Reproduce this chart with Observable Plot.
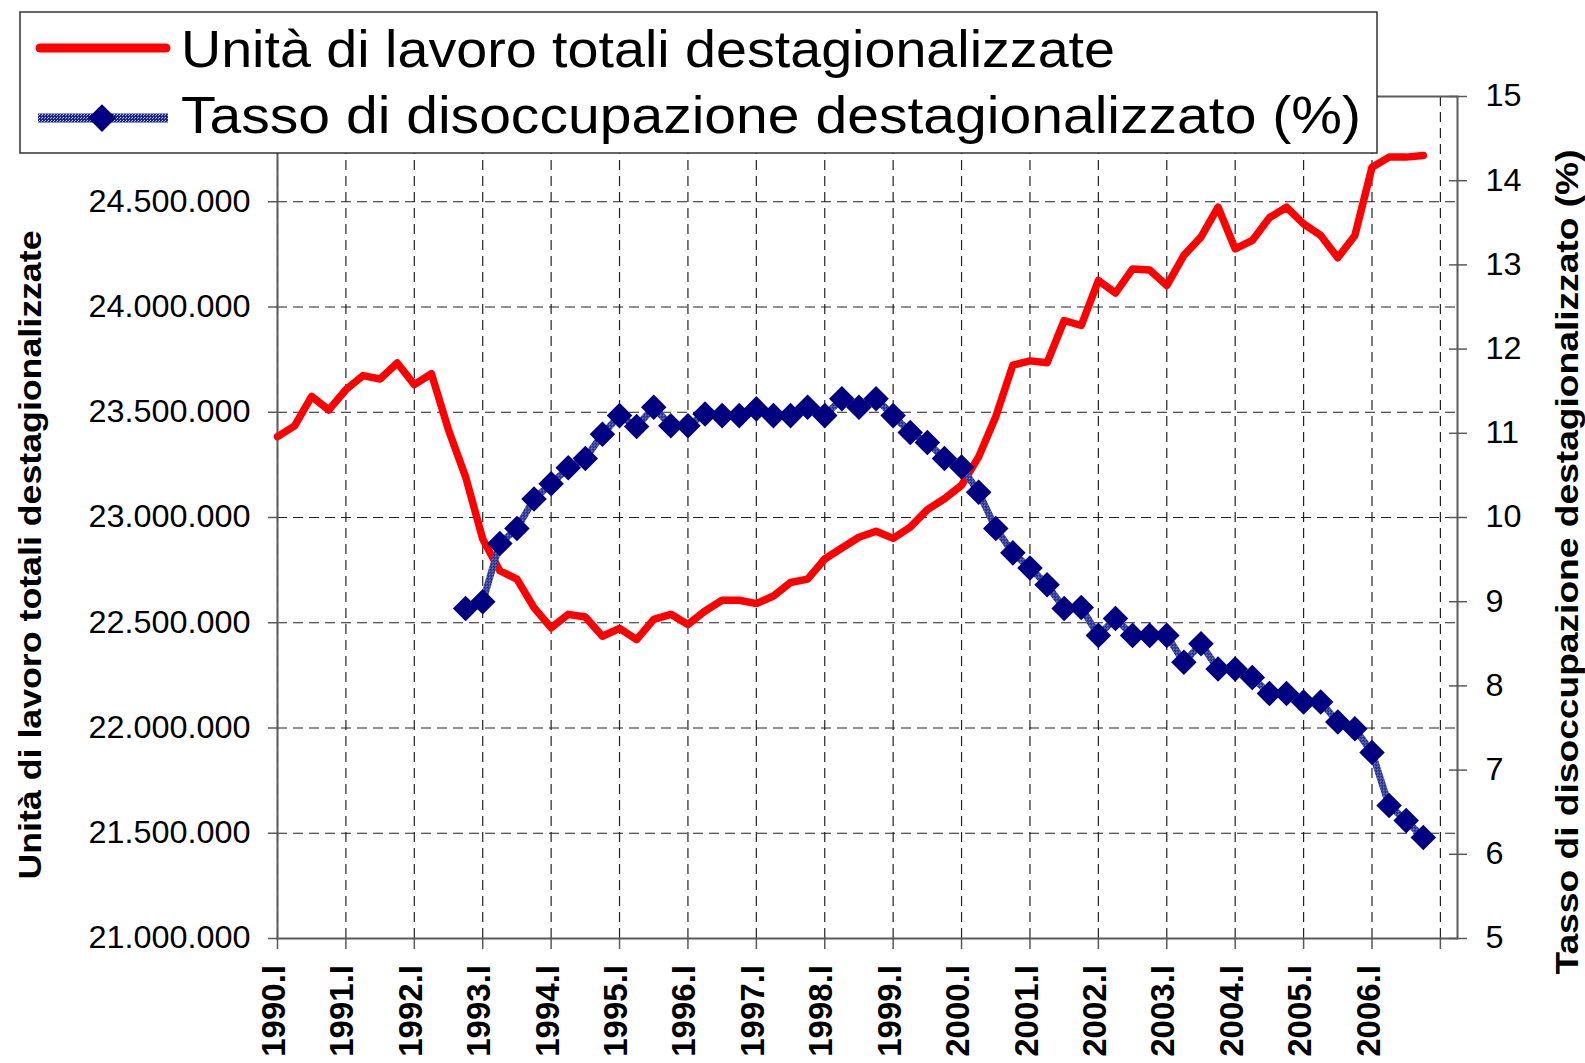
<!DOCTYPE html>
<html>
<head>
<meta charset="utf-8">
<script src="https://cdn.jsdelivr.net/npm/d3@7"></script>
<script src="https://cdn.jsdelivr.net/npm/@observablehq/plot@0.6"></script>
<style>
  html, body { margin: 0; padding: 0; background: #ffffff; }
  #wrap { position: relative; width: 1585px; height: 1063px; overflow: hidden; font-family: "Liberation Sans", Arial, sans-serif; }
  #legend { position: absolute; left: 0; top: 0; }
</style>
</head>
<body>
<div id="wrap">
  <div id="chart"></div>
  <svg id="legend" width="1400" height="170"></svg>
</div>
<script>
// ---------------- DATA ----------------
const years = [1990, 1991, 1992, 1993, 1994, 1995, 1996, 1997, 1998, 1999, 2000, 2001, 2002, 2003, 2004, 2005, 2006];
const quarterNames = ["I", "II", "III", "IV"];
const seriesNames = [
  "Unità di lavoro totali destagionalizzate",
  "Tasso di disoccupazione destagionalizzato (%)"
];
const leftTitle = "Unità di lavoro totali destagionalizzate";
const rightTitle = "Tasso di disoccupazione destagionalizzato (%)";

// Unità di lavoro totali destagionalizzate, 1990.I – 2006.IV
const unitaLavoro = [
  23384000, 23435000, 23575000, 23511000,
  23607000, 23674000, 23658000, 23734000,
  23631000, 23683000, 23416000, 23193000,
  22898000, 22747000, 22707000, 22572000,
  22476000, 22540000, 22527000, 22436000,
  22473000, 22420000, 22516000, 22540000,
  22492000, 22556000, 22607000, 22607000,
  22591000, 22627000, 22691000, 22707000,
  22803000, 22855000, 22906000, 22935000,
  22901000, 22954000, 23037000, 23089000,
  23153000, 23288000, 23479000, 23724000,
  23744000, 23735000, 23936000, 23912000,
  24126000, 24066000, 24181000, 24176000,
  24102000, 24245000, 24332000, 24474000,
  24276000, 24316000, 24424000, 24474000,
  24395000, 24340000, 24234000, 24340000,
  24664000, 24712000, 24712000, 24720000
];

// Tasso di disoccupazione destagionalizzato (%), 1992.IV – 2006.IV
const tassoStart = "1992.IV";
const tassoDisoccupazione = [
  8.92,
  9.00, 9.69, 9.87, 10.22,
  10.40, 10.59, 10.70, 10.99,
  11.21, 11.08, 11.31, 11.09,
  11.09, 11.23, 11.21, 11.21,
  11.29, 11.21, 11.21, 11.31,
  11.21, 11.41, 11.31, 11.41,
  11.21, 11.01, 10.89, 10.70,
  10.60, 10.30, 9.87, 9.58,
  9.40, 9.20, 8.92, 8.93,
  8.60, 8.80, 8.60, 8.60,
  8.60, 8.28, 8.50, 8.20,
  8.20, 8.10, 7.91, 7.91,
  7.81, 7.81, 7.57, 7.49,
  7.21, 6.58, 6.40, 6.20
];

const leftTicks = [21000000, 21500000, 22000000, 22500000, 23000000, 23500000, 24000000, 24500000];
const leftGrid = [21000000, 21500000, 22000000, 22500000, 23000000, 23500000, 24000000, 24500000, 25000000];
const rightTicks = [5, 6, 7, 8, 9, 10, 11, 12, 13, 14, 15];
const xTickLabels = years.map(y => `${y}.I`);
const leftDomain = [21000000, 25000000];
const rightDomain = [5, 15];

// ---------------- BUILD ----------------
const periods = years.flatMap(y => quarterNames.map(q => `${y}.${q}`));
const nCats = periods.length + 2; // axis extends to 2007.II
const unitaData = unitaLavoro.map((v, i) => ({i, period: periods[i], v}));
const start = periods.indexOf(tassoStart);
const tassoData = tassoDisoccupazione.map((u, k) => ({i: start + k, period: periods[start + k], u}));

const toLeft = u => leftDomain[0] + (u - rightDomain[0]) * (leftDomain[1] - leftDomain[0]) / (rightDomain[1] - rightDomain[0]);
const fromLeft = v => rightDomain[0] + (v - leftDomain[0]) * (rightDomain[1] - rightDomain[0]) / (leftDomain[1] - leftDomain[0]);

const itLocale = d3.formatLocale({decimal: ",", thousands: ".", grouping: [3], currency: ["", "€"]});
const fmtLeft = itLocale.format(",d");

const yearIdx = d3.range(0, periods.length + 1, 4);
const gridColor = "#222";
const BLUE_LINE = "#4a57a8";
const FONT = "'Liberation Sans', Arial, sans-serif";

const svg = Plot.plot({
  width: 1585,
  height: 1063,
  marginLeft: 277,
  marginRight: 128,
  marginTop: 96,
  marginBottom: 125,
  style: {fontFamily: FONT, background: "white", color: "black", overflow: "hidden"},
  x: {type: "linear", domain: [0, nCats - 1], axis: null},
  y: {domain: leftDomain, axis: null},
  marks: [
    Plot.gridY(leftGrid, {stroke: gridColor, strokeOpacity: 1, strokeWidth: 1.2, strokeDasharray: "10,6"}),
    Plot.gridX(yearIdx, {stroke: gridColor, strokeOpacity: 1, strokeWidth: 1.2, strokeDasharray: "10,6"}),
    Plot.frame({stroke: "#5a5a5a", strokeWidth: 2}),
    Plot.axisY({ticks: leftTicks, tickFormat: fmtLeft, tickSize: 9, tickPadding: 18, fontSize: 31, label: null, stroke: "#5a5a5a", strokeWidth: 1.5}),
    Plot.axisY({anchor: "right", ticks: rightTicks.map(toLeft), tickFormat: d => String(Math.round(fromLeft(d))), tickSize: 9, tickPadding: 19, fontSize: 31, label: null, stroke: "#5a5a5a", strokeWidth: 1.5}),
    Plot.axisY({anchor: "right", ticks: rightTicks.map(toLeft), tickFormat: () => "", tickSize: -9, label: null, stroke: "#5a5a5a", strokeWidth: 1.5}),
    Plot.axisX({ticks: yearIdx, tickFormat: i => xTickLabels[i / 4] ?? "", tickRotate: -90, tickSize: 11, tickPadding: 18, fontSize: 33, fontWeight: "bold", label: null, stroke: "#5a5a5a", strokeWidth: 1.5}),
    Plot.lineY(unitaData, {x: "i", y: "v", stroke: "#ff0000", strokeWidth: 7.5, strokeLinejoin: "round", strokeLinecap: "round"}),
    Plot.line(tassoData, {x: "i", y: d => toLeft(d.u), stroke: BLUE_LINE, strokeWidth: 7, strokeLinejoin: "round"}),
    Plot.dot(tassoData, {x: "i", y: d => toLeft(d.u), symbol: "diamond2", r: 11.5, fill: "#000080", stroke: "none"}),
    Plot.text([leftTitle], {text: d => d, frameAnchor: "left", dx: -248, dy: 38, rotate: -90, fontSize: 32, fontWeight: "bold", fill: "black"}),
    Plot.text([rightTitle], {text: d => d, frameAnchor: "right", dx: 110, dy: 45, rotate: -90, fontSize: 32, fontWeight: "bold", fill: "black"})
  ]
});

document.getElementById("chart").appendChild(svg);
const sel = d3.select(svg);

// dithered pattern for the unemployment connector line
function addPattern(d) {
  const p = d.append("pattern").attr("id", "bluePattern").attr("patternUnits", "userSpaceOnUse").attr("width", 3).attr("height", 3);
  p.append("rect").attr("width", 3).attr("height", 3).attr("fill", "#1c2888");
  p.append("rect").attr("width", 1).attr("height", 1).attr("fill", "#d0d4f2");
  p.append("rect").attr("x", 2).attr("y", 1).attr("width", 1).attr("height", 1).attr("fill", "#9aa2dc");
}
addPattern(sel.insert("defs", ":first-child"));
sel.selectAll(`[stroke="${BLUE_LINE}"]`).attr("stroke", "url(#bluePattern)");

// helpers to measure and shift text in svg pixel coordinates
const svgRect = () => svg.getBoundingClientRect();
function boxOf(el) {
  const r = el.getBoundingClientRect(), s = svgRect();
  return {left: r.left - s.left, top: r.top - s.top, right: r.right - s.left, bottom: r.bottom - s.top, width: r.width, height: r.height};
}
function shift(el, dx, dy) {
  const t = el.getAttribute("transform") || "";
  el.setAttribute("transform", `translate(${dx},${dy}) ${t}`);
}

// horizontal tick labels: slight horizontal widening as in the reference
sel.selectAll('g[aria-label="y-axis tick label"] text').each(function () {
  if (!this.textContent) return;
  const w = this.getComputedTextLength();
  this.setAttribute("textLength", (w * 1.045).toFixed(1));
  this.setAttribute("lengthAdjust", "spacingAndGlyphs");
});

// x tick labels: fix size and position (text end ~28px below the axis), keep inside the picture
sel.selectAll('g[aria-label="x-axis tick label"] text').each(function () {
  if (!this.textContent) return;
  this.setAttribute("font-size", 33);
  this.setAttribute("font-weight", "bold");
  const b = boxOf(this);
  let top = 965;
  if (top + b.height > 1060) top = 1060 - b.height;
  shift(this, -3, top - b.top);
});

// axis titles: stretch and center
sel.selectAll("text").each(function () {
  let L = null, cx = null, cy = null;
  if (this.textContent === leftTitle) { L = 649; cx = 30; cy = 555; }
  if (this.textContent === rightTitle) { L = 825; cx = 1567; cy = 562; }
  if (L == null) return;
  this.setAttribute("font-size", 32);
  this.setAttribute("textLength", L);
  this.setAttribute("lengthAdjust", "spacingAndGlyphs");
  const b = boxOf(this);
  shift(this, cx - (b.left + b.right) / 2, cy - (b.top + b.bottom) / 2);
});

// ---------------- LEGEND ----------------
const lg = d3.select("#legend");
addPattern(lg.append("defs"));
lg.append("rect").attr("x", 20).attr("y", 12).attr("width", 1357).attr("height", 141)
  .attr("fill", "white").attr("stroke", "#333").attr("stroke-width", 1.5);
lg.append("line").attr("x1", 40).attr("x2", 166).attr("y1", 48).attr("y2", 48)
  .attr("stroke", "#ff0000").attr("stroke-width", 9).attr("stroke-linecap", "round");
lg.append("text").attr("x", 181).attr("y", 67).attr("font-size", 52).attr("font-family", FONT)
  .attr("textLength", 934).attr("lengthAdjust", "spacingAndGlyphs").text(seriesNames[0]);
lg.append("line").attr("x1", 38).attr("x2", 168).attr("y1", 118).attr("y2", 118)
  .attr("stroke", "url(#bluePattern)").attr("stroke-width", 9);
lg.append("path").attr("d", d3.symbol(d3.symbolDiamond2, Math.PI * 12.5 * 12.5)())
  .attr("transform", "translate(102,118)").attr("fill", "#000080");
lg.append("text").attr("x", 181).attr("y", 133).attr("font-size", 52).attr("font-family", FONT)
  .attr("textLength", 1180).attr("lengthAdjust", "spacingAndGlyphs").text(seriesNames[1]);
</script>
</body>
</html>
